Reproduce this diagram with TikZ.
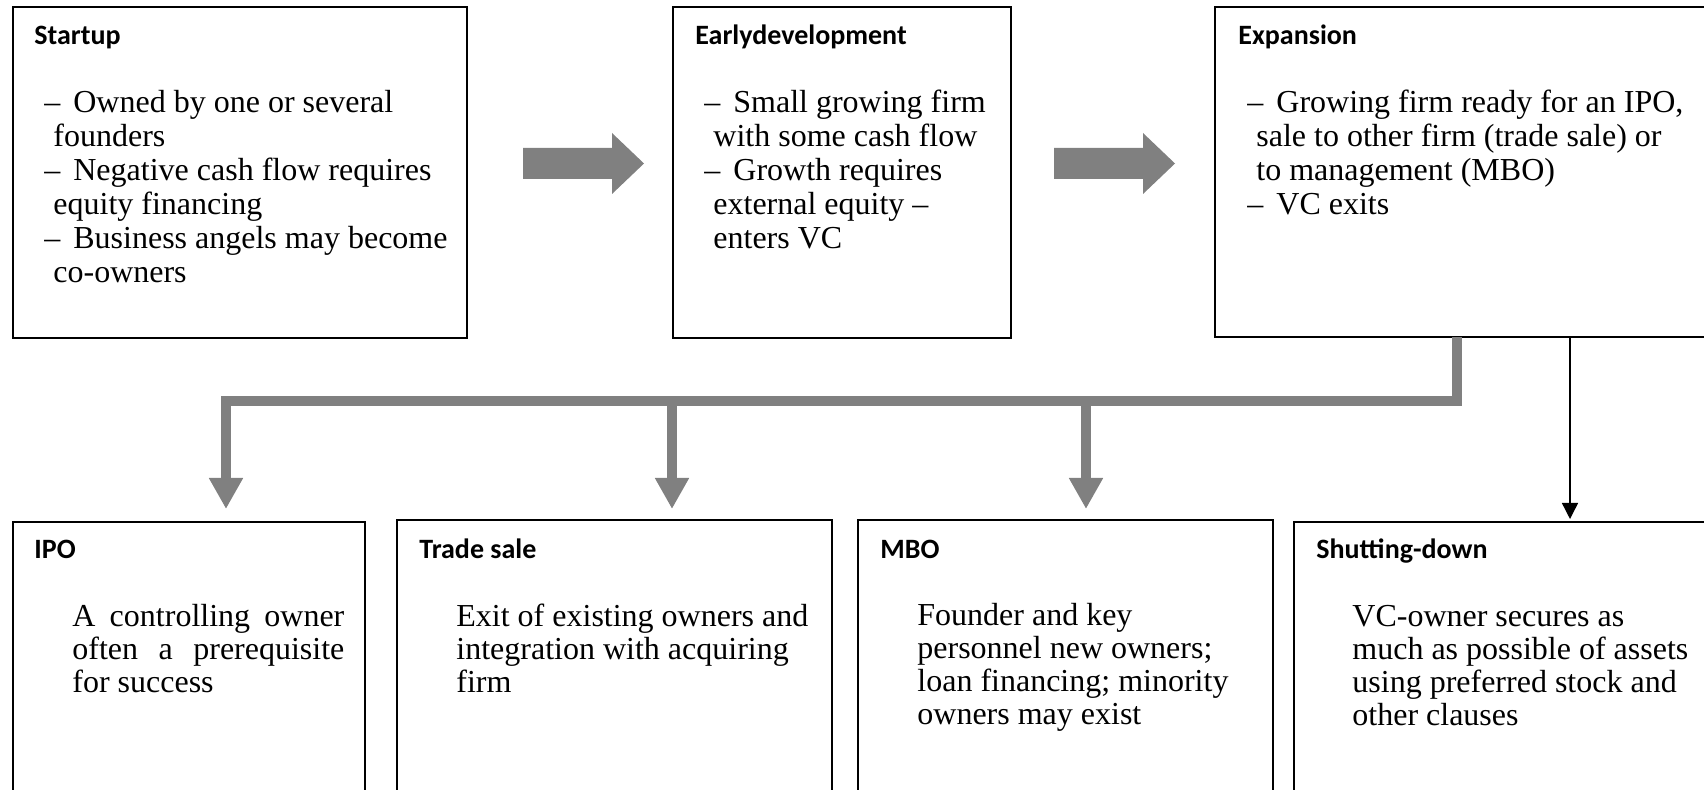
\documentclass[tikz,border=0pt]{standalone}
\usepackage{fontspec}
\setmainfont{Liberation Serif}
\newfontfamily\headfont{Carlito}
\usetikzlibrary{arrows.meta}
\definecolor{arrowgray}{RGB}{128,128,128}
\begin{document}
\begin{tikzpicture}[x=0.5pt,y=-0.5pt,
  box/.style={draw=black, line width=1.1pt, anchor=north west, inner sep=0pt, outer sep=0pt},
  head/.style={anchor=base west, inner sep=0pt, font=\headfont\bfseries\fontsize{14pt}{17pt}\selectfont},
  body/.style={anchor=base west, inner sep=0pt, font=\fontsize{16pt}{17pt}\selectfont},
  bodyb/.style={body, font=\fontsize{16pt}{16.5pt}\selectfont},
  grayline/.style={draw=arrowgray, line width=5.4pt, line join=miter},
  grayarrow/.style={grayline, -{Triangle[width=16pt,length=15.5pt]}},
  thinarrow/.style={draw=black, line width=0.7pt, -{Triangle[width=8pt,length=8pt]}},
  blockarrow/.style={fill=arrowgray}
]
\useasboundingbox (0,0) rectangle (1704,790);
\clip (0,0) rectangle (1704,790);

% top boxes
\node[box, minimum width=227pt, minimum height=165.5pt] (startup) at (13,7) {};
\node[box, minimum width=169pt, minimum height=165.5pt] (early) at (673,7) {};
\node[box, minimum width=300pt, minimum height=165pt] (exp) at (1215,7) {};

% bottom boxes
\node[box, minimum width=176pt, minimum height=200pt] (ipo) at (13,522) {};
\node[box, minimum width=217.5pt, minimum height=200pt] (trade) at (397,520) {};
\node[box, minimum width=207.5pt, minimum height=200pt] (mbo) at (858,520) {};
\node[box, minimum width=250pt, minimum height=200pt] (shut) at (1294,522) {};

% texts
\node[head] (startupH) at (34,45) {Startup};
\node[body] (startupB) at (44,113) {\vtop{\hbox{–\hspace{6.5pt}Owned by one or several}\hbox{\hspace{4.5pt}founders}\hbox{–\hspace{6.5pt}Negative cash flow requires}\hbox{\hspace{4.5pt}equity financing}\hbox{–\hspace{6.5pt}Business angels may become}\hbox{\hspace{4.5pt}co-owners}}};

\node[head] (earlyH) at (695,45) {Earlydevelopment};
\node[body] (earlyB) at (704,113) {\vtop{\hbox{–\hspace{6.5pt}Small growing firm}\hbox{\hspace{4.5pt}with some cash flow}\hbox{–\hspace{6.5pt}Growth requires}\hbox{\hspace{4.5pt}external equity –}\hbox{\hspace{4.5pt}enters VC}}};

\node[head] (expH) at (1238,45) {Expansion};
\node[body] (expB) at (1247,113) {\vtop{\hbox{–\hspace{6.5pt}Growing firm ready for an IPO,}\hbox{\hspace{4.5pt}sale to other firm (trade sale) or}\hbox{\hspace{4.5pt}to management (MBO)}\hbox{–\hspace{6.5pt}VC exits}}};

\node[head] (ipoH) at (34,559) {IPO};
\node[bodyb] (ipoB) at (72,627) {\vtop{\hbox to 136pt{A\hfill controlling\hfill owner}\hbox to 136pt{often\hfill a\hfill prerequisite}\hbox{for success}}};

\node[head] (tradeH) at (419,559) {Trade sale};
\node[bodyb] (tradeB) at (456,627) {\vtop{\hbox{Exit of existing owners and}\hbox{integration with acquiring}\hbox{firm}}};

\node[head] (mboH) at (880,559) {MBO};
\node[bodyb] (mboB) at (917,626) {\vtop{\hbox{Founder and key}\hbox{personnel new owners;}\hbox{loan financing; minority}\hbox{owners may exist}}};

\node[head] (shutH) at (1316,559) {Shutting-down};
\node[bodyb] (shutB) at (1352,627) {\vtop{\hbox{VC-owner secures as}\hbox{much as possible of assets}\hbox{using preferred stock and}\hbox{other clauses}}};

% block arrows between top boxes
\fill[blockarrow] (523,148) -- (612,148) -- (612,133) -- (644,163.5) -- (612,194) -- (612,179) -- (523,179) -- cycle;
\fill[blockarrow] (1054,148) -- (1143,148) -- (1143,133) -- (1175,163.5) -- (1143,194) -- (1143,179) -- (1054,179) -- cycle;

% gray distribution connector
\coordinate (hub) at (1457,401);
\coordinate (ipoIn) at (226,509);
\coordinate (tradeIn) at (672,509);
\coordinate (mboIn) at (1086,509);
\coordinate (shutIn) at (1570,519);
\draw[grayarrow] (hub |- exp.south) -- (hub) -| (ipoIn);
\draw[grayarrow] (tradeIn |- hub) -- (tradeIn);
\draw[grayarrow] (mboIn |- hub) -- (mboIn);

% thin arrow to shutting-down
\draw[thinarrow] (shutIn |- exp.south) -- (shutIn);
\end{tikzpicture}
\end{document}
